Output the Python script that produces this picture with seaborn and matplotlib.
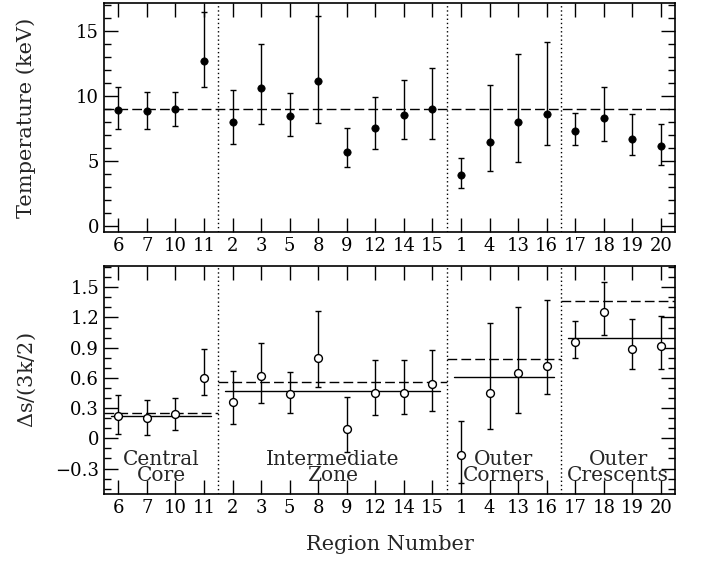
import numpy as np
import pandas as pd
import matplotlib
matplotlib.use("Agg")
import matplotlib.pyplot as plt
import seaborn as sns

# ---------------- data ----------------
regions = ["6", "7", "10", "11", "2", "3", "5", "8", "9", "12", "14", "15",
           "1", "4", "13", "16", "17", "18", "19", "20"]

temp = [8.9, 8.8, 9.0, 12.7, 8.0, 10.6, 8.4, 11.1, 5.7, 7.5, 8.5, 9.0,
        3.9, 6.4, 8.0, 8.6, 7.3, 8.3, 6.7, 6.1]
temp_hi = [10.7, 10.3, 10.3, 16.4, 10.4, 14.0, 10.2, 16.1, 7.5, 9.9, 11.2, 12.1,
           5.2, 10.8, 13.2, 14.1, 8.7, 10.7, 8.6, 7.8]
temp_lo = [7.4, 7.4, 7.7, 10.7, 6.3, 7.8, 6.9, 7.9, 4.5, 5.9, 6.7, 6.7,
           2.9, 4.2, 4.9, 6.2, 6.2, 6.5, 5.4, 4.7]
temp_mean = 9.0

ds = [0.22, 0.20, 0.24, 0.60, 0.36, 0.62, 0.44, 0.80, 0.09, 0.45, 0.45, 0.54,
      -0.17, 0.45, 0.65, 0.72, 0.96, 1.25, 0.89, 0.92]
ds_hi = [0.43, 0.38, 0.40, 0.89, 0.67, 0.95, 0.66, 1.26, 0.41, 0.78, 0.78, 0.88,
         0.17, 1.14, 1.30, 1.37, 1.16, 1.55, 1.18, 1.21]
ds_lo = [0.04, 0.03, 0.08, 0.43, 0.14, 0.35, 0.25, 0.51, -0.14, 0.23, 0.24, 0.27,
         -0.44, 0.09, 0.25, 0.44, 0.80, 1.03, 0.69, 0.69]

group_names = ["Central\nCore", "Intermediate\nZone", "Outer\nCorners", "Outer\nCrescents"]
group_sizes = [4, 8, 4, 4]
group_solid = [0.22, 0.47, 0.61, 1.00]
group_dashed = [0.25, 0.56, 0.79, 1.36]

# ---------------- style ----------------
sns.set_style("ticks")
plt.rcParams['font.family'] = ['DejaVu Serif']
plt.rcParams['mathtext.fontset'] = 'dejavuserif'
FS_TICK = 13
FS_LAB = 15
FS_ANN = 14.5

df = pd.DataFrame({
    "pos": np.arange(len(regions)),
    "region": regions,
    "temp": temp, "temp_lo": temp_lo, "temp_hi": temp_hi,
    "ds": ds, "ds_lo": ds_lo, "ds_hi": ds_hi,
})

fig = plt.figure(figsize=(7.04, 5.64), dpi=100)
ax1 = fig.add_axes([0.1477, 0.5883, 0.9592 - 0.1477, 0.9940 - 0.5883])
ax2 = fig.add_axes([0.1477, 0.1236, 0.9592 - 0.1477, 0.5284 - 0.1236])

# group boundaries
bounds = np.cumsum([0] + group_sizes) - 0.5

def style_axis(ax):
    for s in ax.spines.values():
        s.set_linewidth(1.2)
        s.set_color("black")
    ax.tick_params(axis="both", which="both", direction="in", top=True, right=True,
                   labelsize=FS_TICK, colors="black", width=1.0)
    ax.tick_params(axis="both", which="major", length=10)
    ax.tick_params(axis="y", which="minor", length=5)
    ax.set_xticks(df["pos"])
    ax.set_xticklabels(df["region"])
    ax.set_xlim(-0.5, len(regions) - 0.5)
    for b in bounds[1:-1]:
        ax.axvline(b, color="black", lw=1.0, ls=(0, (1, 2)), zorder=1)

# ---- top panel ----
ax1.errorbar(df["pos"], df["temp"],
             yerr=[df["temp"] - df["temp_lo"], df["temp_hi"] - df["temp"]],
             fmt="none", ecolor="black", elinewidth=1.0, capsize=2.2, capthick=1.0, zorder=2)
sns.scatterplot(data=df, x="pos", y="temp", ax=ax1, color="black", s=28,
                edgecolor="black", linewidth=0.5, zorder=3, legend=False)
ax1.axhline(temp_mean, color="black", lw=1.0, ls=(0, (7, 3)), zorder=1)
ax1.set_ylim(-0.5, 17.1)
ax1.set_yticks([0, 5, 10, 15])
ax1.yaxis.set_minor_locator(matplotlib.ticker.MultipleLocator(1))
style_axis(ax1)
ax1.set_xlabel("")
ax1.set_ylabel("Temperature (keV)", fontsize=FS_LAB, va="center")
ax1.yaxis.set_label_coords(-0.136, 0.5)

# ---- bottom panel ----
ax2.errorbar(df["pos"], df["ds"],
             yerr=[df["ds"] - df["ds_lo"], df["ds_hi"] - df["ds"]],
             fmt="none", ecolor="black", elinewidth=1.0, capsize=2.2, capthick=1.0, zorder=2)
sns.scatterplot(data=df, x="pos", y="ds", ax=ax2, color="white", s=32,
                edgecolor="black", linewidth=1.0, zorder=3, legend=False)
for i, (name, sv, dv) in enumerate(zip(group_names, group_solid, group_dashed)):
    x0, x1 = bounds[i], bounds[i + 1]
    ax2.plot([x0, x1], [dv, dv], color="black", lw=1.0, ls=(0, (7, 3)), zorder=1)
    ax2.plot([x0 + 0.25, x1 - 0.25], [sv, sv], color="black", lw=1.0, zorder=1)
    ax2.text((x0 + x1) / 2, -0.29, name, ha="center", va="center",
             fontsize=FS_ANN, linespacing=0.85, zorder=4)
ax2.set_ylim(-0.556, 1.711)
ax2.set_yticks([-0.3, 0, 0.3, 0.6, 0.9, 1.2, 1.5])
ax2.set_yticklabels(["\u22120.3", "0", "0.3", "0.6", "0.9", "1.2", "1.5"])
ax2.yaxis.set_minor_locator(matplotlib.ticker.MultipleLocator(0.1))
style_axis(ax2)
ax2.set_xlabel("Region Number", fontsize=FS_LAB, va="center")
ax2.xaxis.set_label_coords(0.5, -0.222)
ax2.set_ylabel("$\\Delta$s/(3k/2)", fontsize=FS_LAB, va="center")
ax2.yaxis.set_label_coords(-0.136, 0.5)

fig.savefig("out.png", dpi=100)
